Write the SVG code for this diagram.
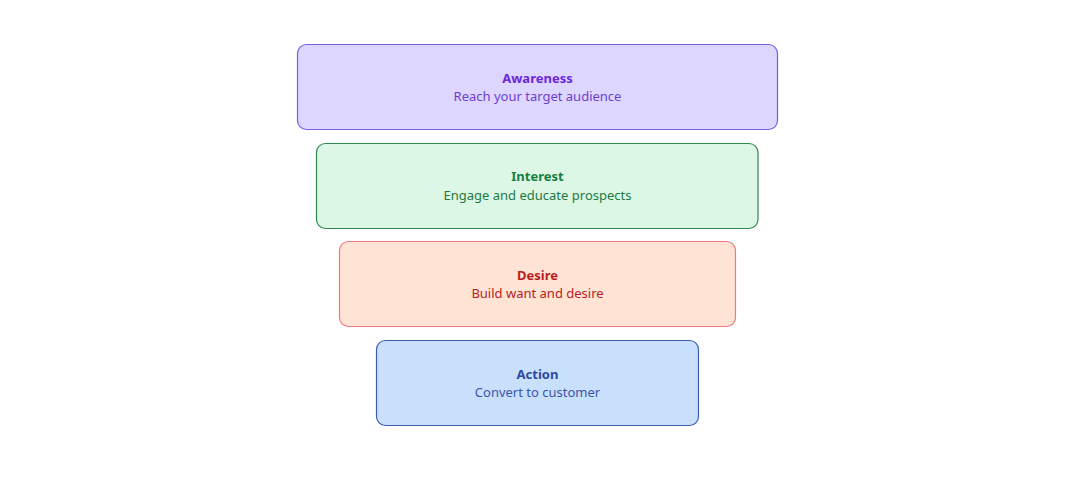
<svg xmlns="http://www.w3.org/2000/svg" width="1080" height="480" viewBox="0 0 1080 480">
<style>
.t{font-family:"Noto Sans","Open Sans",sans-serif;font-size:13px;text-anchor:middle}
.b{font-weight:bold}
</style>
<rect width="1080" height="480" fill="#ffffff"/>
<g id="awareness">
<rect x="297.5" y="44.5" width="480" height="85" rx="9" fill="#ddd6fe" stroke="#7c5ce0" stroke-width="1.2"/>
<text class="t b" x="537.5" y="82.5" fill="#6d28d9">Awareness</text>
<text class="t" x="537.5" y="101" fill="#6d3fd0">Reach your target audience</text>
</g>
<g id="interest">
<rect x="316.5" y="143.5" width="441.5" height="85" rx="9" fill="#dcf7e6" stroke="#2f8a4d" stroke-width="1.2"/>
<text class="t b" x="537.5" y="181" fill="#15803d">Interest</text>
<text class="t" x="537.5" y="199.5" fill="#1f7a42">Engage and educate prospects</text>
</g>
<g id="desire">
<rect x="339.5" y="241.5" width="396" height="85" rx="9" fill="#ffe4d6" stroke="#f07878" stroke-width="1.2"/>
<text class="t b" x="537.5" y="279.5" fill="#b91c1c">Desire</text>
<text class="t" x="537.5" y="298" fill="#b91c1c">Build want and desire</text>
</g>
<g id="action">
<rect x="376.5" y="340.5" width="322" height="85" rx="9" fill="#c9e0fd" stroke="#3b5cb0" stroke-width="1.2"/>
<text class="t b" x="537.5" y="378.5" fill="#2b4aa0">Action</text>
<text class="t" x="537.5" y="397" fill="#3b55a8">Convert to customer</text>
</g>
<g id="connectors"></g>
</svg>
